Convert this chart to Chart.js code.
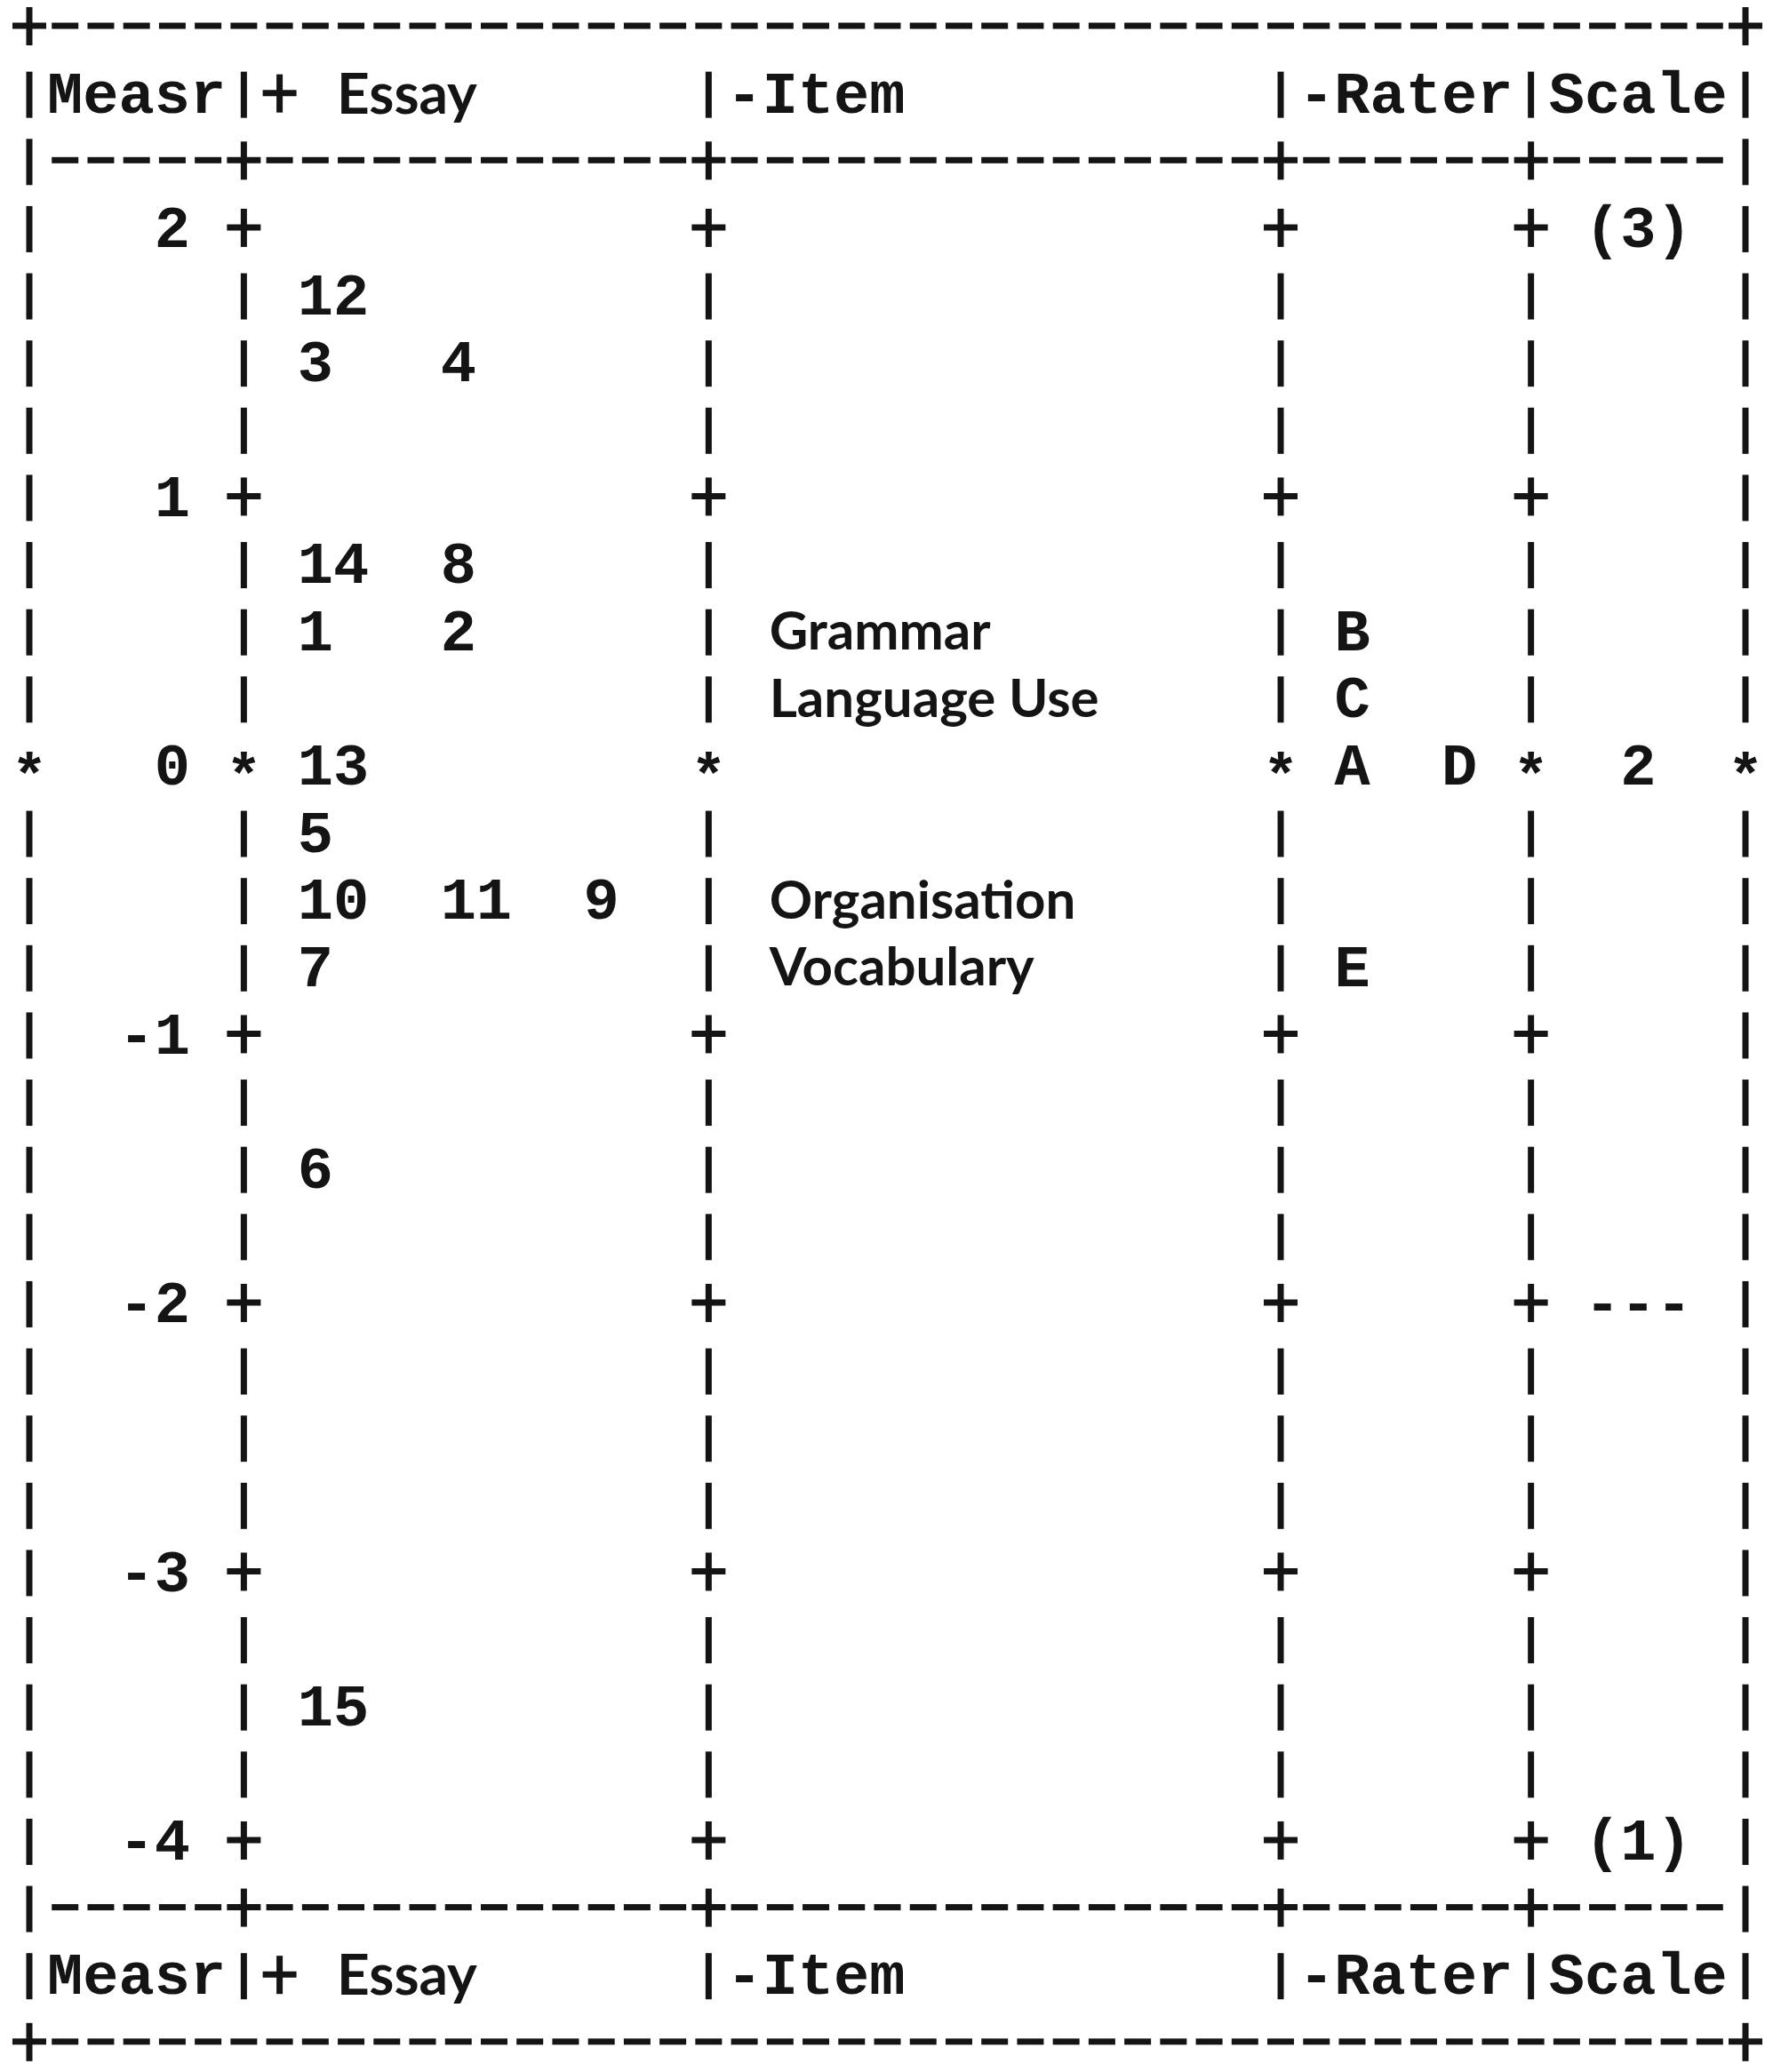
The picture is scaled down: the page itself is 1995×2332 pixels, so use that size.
<!DOCTYPE html>
<html>
<head>
<meta charset="utf-8">
<title>Wright map</title>
<script src="https://cdn.jsdelivr.net/npm/chart.js@4.4.0/dist/chart.umd.min.js"></script>
<style>
    html, body { margin: 0; padding: 0; background: #ffffff; }
    canvas { display: block; }
</style>
</head>
<body>
<canvas id="wrightMap" width="1995" height="2332"></canvas>
<script>
// logit ruler (Measr column)
var measureTicks = [2, 1, 0, -1, -2, -3, -4];

// Essay facet
var essayIds = ['12', '3', '4', '14', '8', '1', '2', '13', '5', '10', '11', '9', '7', '6', '15'];
var essayMeasures = [1.75, 1.5, 1.5, 0.75, 0.75, 0.5, 0.5, 0, -0.25, -0.5, -0.5, -0.5, -0.75, -1.5, -3.5];

// Item facet
var itemNames = ['Grammar', 'Language Use', 'Organisation', 'Vocabulary'];
var itemMeasures = [0.5, 0.25, -0.5, -0.75];

// Rater facet
var raterIds = ['B', 'C', 'A', 'D', 'E'];
var raterMeasures = [0.5, 0.25, 0, 0, -0.75];

// rating scale
var scaleLabels = ['(3)', '2', '---', '(1)'];
var scaleMeasures = [2, 0, -2, -4];

var headerTitles = ['Measr', 'Essay', '-Item', '-Rater', 'Scale'];

var ink = '#141414';
var ROW = 0.25;
var frameCols = [0, 6, 19, 35, 42, 48];

// several ids on one row go side by side
function slots(measures, firstCol, step) {
    var seen = {};
    return measures.map(function (m) {
        var k = seen[m] || 0;
        seen[m] = k + 1;
        return { x: firstCol + k * step, y: m };
    });
}

function monoFont(cw) { return 'bold ' + Math.round(cw / 0.6) + 'px "Liberation Mono", "DejaVu Sans Mono", monospace'; }
function sansFont(cw, k) { return 'bold ' + Math.round(cw * (k || 1.49)) + 'px Lato, "Open Sans", sans-serif'; }

function putText(ctx, str, x, y, font, align, capRatio, size) {
    ctx.font = font;
    ctx.textAlign = align;
    ctx.textBaseline = 'alphabetic';
    ctx.fillStyle = ink;
    ctx.fillText(str, x, y + size * capRatio / 2);
}

var textMarks = {
    id: 'textMarks',
    afterDatasetsDraw: function (chart) {
        var ctx = chart.ctx;
        var xs = chart.scales.x;
        var cw = xs.getPixelForValue(1) - xs.getPixelForValue(0);
        ctx.save();
        chart.data.datasets.forEach(function (ds, i) {
            var meta = chart.getDatasetMeta(i);
            var sans = ds.markStyle === 'sans';
            var font = sans ? sansFont(cw) : monoFont(cw);
            var size = sans ? cw * 1.49 : cw / 0.6;
            var cap = sans ? 0.72 : 0.66;
            meta.data.forEach(function (pt, j) {
                var x = pt.x;
                if (ds.markAlign === 'left') x = pt.x - cw / 2 + (ds.markShift || 0);
                if (ds.markAlign === 'right') x = pt.x + cw / 2;
                putText(ctx, ds.marks[j], x, pt.y, font, ds.markAlign, cap, size);
            });
        });
        ctx.restore();
    }
};

var asciiFrame = {
    id: 'asciiFrame',
    afterDatasetsDraw: function (chart) {
        var ctx = chart.ctx;
        var xs = chart.scales.x, ys = chart.scales.y;
        var cw = xs.getPixelForValue(1) - xs.getPixelForValue(0);
        var top = measureTicks[0];
        var bottom = measureTicks[measureTicks.length - 1];
        var last = frameCols[frameCols.length - 1];
        var mono = cw / 0.6;

        ctx.save();
        ctx.strokeStyle = ink;
        ctx.lineWidth = 7;
        ctx.lineCap = 'butt';

        function line(x1, y1, x2, y2) {
            ctx.beginPath();
            ctx.moveTo(x1, y1);
            ctx.lineTo(x2, y2);
            ctx.stroke();
        }
        function bar(c, r) {
            var x = xs.getPixelForValue(c), y = ys.getPixelForValue(r);
            line(x, y - 24, x, y + 28);
        }
        function plus(c, r) {
            var x = xs.getPixelForValue(c), y = ys.getPixelForValue(r);
            line(x, y - 21, x, y + 22);
            line(x - 19, y, x + 19, y);
        }
        function dash(c, r) {
            var x = xs.getPixelForValue(c), y = ys.getPixelForValue(r);
            line(x - 15, y, x + 15, y);
        }
        function star(c, r) {
            var x = xs.getPixelForValue(c), y = ys.getPixelForValue(r);
            ctx.font = monoFont(cw);
            ctx.textAlign = 'center';
            ctx.textBaseline = 'alphabetic';
            ctx.fillStyle = ink;
            ctx.fillText('*', x, y + mono * 0.5);
        }

        // body rows, one every quarter logit
        for (var v = top; v >= bottom - 1e-9; v -= ROW) {
            var r = Math.round(v / ROW) * ROW;
            frameCols.forEach(function (c, i) {
                var edge = i === 0 || i === frameCols.length - 1;
                if (r === 0) star(c, r);
                else if (Number.isInteger(r) && !edge) plus(c, r);
                else bar(c, r);
            });
        }

        // separator rows
        [top + ROW, bottom - ROW].forEach(function (r) {
            for (var c = 0; c <= last; c++) {
                if (c === 0 || c === last) bar(c, r);
                else if (frameCols.indexOf(c) >= 0) plus(c, r);
                else dash(c, r);
            }
        });

        // header rows
        var headCols = [1, 9, 20, 36, 43];
        [top + 2 * ROW, bottom - 2 * ROW].forEach(function (r) {
            var y = ys.getPixelForValue(r);
            frameCols.forEach(function (c) { bar(c, r); });
            plus(7, r);
            headerTitles.forEach(function (t, i) {
                var x = xs.getPixelForValue(headCols[i]) - cw / 2;
                if (t === 'Essay') putText(ctx, t, x + 4, y, sansFont(cw, 1.6), 'left', 0.72, cw * 1.6);
                else putText(ctx, t, x, y, monoFont(cw), 'left', 0.66, mono);
            });
        });

        // outer border rows
        [top + 3 * ROW, bottom - 3 * ROW].forEach(function (r) {
            for (var c = 0; c <= last; c++) {
                if (c === 0 || c === last) plus(c, r);
                else dash(c, r);
            }
        });
        ctx.restore();
    }
};

var ctx = document.getElementById('wrightMap').getContext('2d');
var myChart = new Chart(ctx, {
    type: 'scatter',
    data: {
        datasets: [{
            label: 'Measr',
            data: measureTicks.map(function (m) { return { x: 4, y: m }; }),
            marks: measureTicks.map(String),
            markAlign: 'right'
        }, {
            label: 'Essay',
            data: slots(essayMeasures, 8, 4),
            marks: essayIds,
            markAlign: 'left'
        }, {
            label: 'Item',
            data: slots(itemMeasures, 21, 0),
            marks: itemNames,
            markAlign: 'left',
            markStyle: 'sans',
            markShift: 8
        }, {
            label: 'Rater',
            data: slots(raterMeasures, 37, 3),
            marks: raterIds,
            markAlign: 'left'
        }, {
            label: 'Scale',
            data: slots(scaleMeasures, 45, 0),
            marks: scaleLabels,
            markAlign: 'center'
        }]
    },
    options: {
        responsive: false,
        animation: false,
        events: [],
        elements: { point: { radius: 0, hoverRadius: 0 } },
        layout: { padding: 0 },
        plugins: {
            legend: { display: false },
            tooltip: { enabled: false }
        },
        scales: {
            x: { type: 'linear', min: -0.82, max: 48.77, display: false },
            y: { type: 'linear', min: -4.863, max: 2.846, display: false }
        }
    },
    plugins: [asciiFrame, textMarks]
});
</script>
</body>
</html>
